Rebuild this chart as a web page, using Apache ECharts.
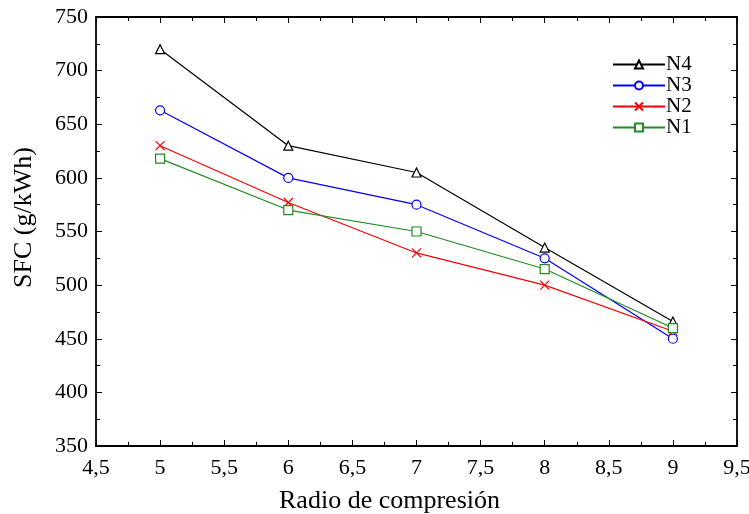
<!DOCTYPE html>
<html><head><meta charset="utf-8">
<script src="https://cdn.jsdelivr.net/npm/echarts@6/dist/echarts.min.js"></script>
<style>html,body{margin:0;padding:0;background:#fff}#c{width:749px;height:514px}</style>
</head><body><div id="c"></div>
<script>
const xValues = [5, 6, 7, 8, 9];
const n4 = [720, 630, 605, 535, 466];
const n3 = [663, 600, 575, 525, 450];
const n2 = [630, 577, 530, 500, 457];
const n1 = [618, 570, 550, 515, 460];
const seriesNames = ['N4', 'N3', 'N2', 'N1'];

const FONT = 'Liberation Serif';
const chart = echarts.init(document.getElementById('c'));
const pair = arr => xValues.map((x, i) => [x, arr[i]]);
const mk = (name, data, color, symbol) => ({
  name, type: 'line', data: pair(data), symbol, symbolSize: 9,
  lineStyle: {color, width: 1.2},
  itemStyle: {color: symbol.startsWith('path') ? 'none' : '#fff', borderColor: color, borderWidth: 1.2},
  emphasis: {disabled: true}, z: 3
});
const axisCommon = {
  axisLine: {show: true, onZero: false, lineStyle: {color: '#000', width: 1.8}},
  axisTick: {show: true, inside: true, length: 6, lineStyle: {color: '#000', width: 1}},
  minorTick: {show: true, splitNumber: 2, length: 4, lineStyle: {color: '#000', width: 1}},
  splitLine: {show: false}
};
chart.setOption({
  animation: false,
  grid: {left: 96, top: 17, right: 12, bottom: 68, outerBoundsMode: 'none'},
  legend: {
    orient: 'vertical', left: 607, top: 49, itemWidth: 52, itemHeight: 10, itemGap: 0,
    data: seriesNames,
    textStyle: {fontFamily: FONT, fontSize: 21, color: '#000', padding: [0, 0, 0, -4]}
  },
  xAxis: [
    Object.assign({type: 'value', min: 4.5, max: 9.5, interval: 0.5, position: 'bottom',
      name: 'Radio de compresión', nameLocation: 'middle', nameGap: 42,
      nameTextStyle: {fontFamily: FONT, fontSize: 26, color: '#000', padding: [0, 54, 0, 0]},
      axisLabel: {fontFamily: FONT, fontSize: 22, color: '#000', margin: 11,
        formatter: v => String(v).replace('.', ',')}}, axisCommon),
    Object.assign({type: 'value', min: 4.5, max: 9.5, interval: 0.5, position: 'top',
      axisLabel: {show: false}}, axisCommon)
  ],
  yAxis: [
    Object.assign({type: 'value', min: 350, max: 750, interval: 50, position: 'left',
      name: 'SFC (g/kWh)', nameLocation: 'middle', nameGap: 59,
      nameTextStyle: {fontFamily: FONT, fontSize: 26, color: '#000', padding: [0, 0, 0, 28]},
      axisLabel: {fontFamily: FONT, fontSize: 22, color: '#000', margin: 8}}, axisCommon),
    Object.assign({type: 'value', min: 350, max: 750, interval: 50, position: 'right',
      axisLabel: {show: false}}, axisCommon)
  ],
  series: [
    mk('N4', n4, '#000000', 'triangle'),
    mk('N3', n3, '#0000ff', 'circle'),
    mk('N2', n2, '#ff0000', 'path://M0,0L10,10M10,0L0,10'),
    mk('N1', n1, '#228b22', 'rect')
  ]
});
</script></body></html>
